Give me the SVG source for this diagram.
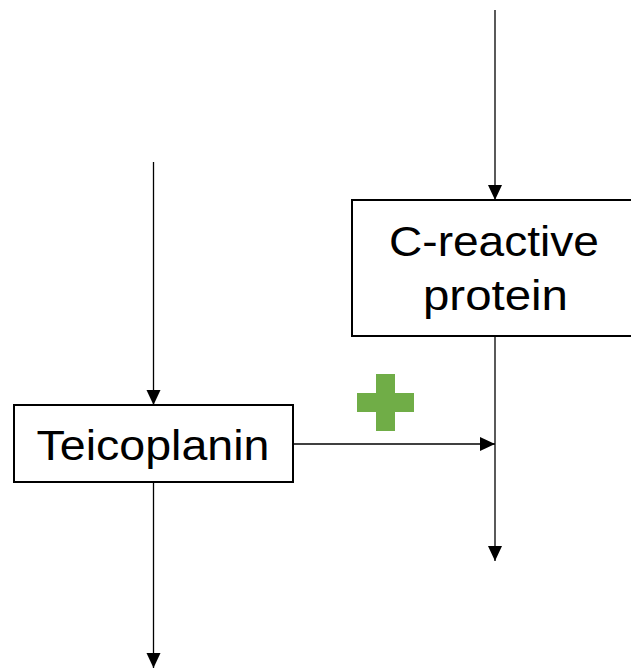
<svg xmlns="http://www.w3.org/2000/svg" width="631" height="669" viewBox="0 0 631 669">
<style>
.box{fill:#fff;stroke:#000;stroke-width:2}
.lbl{font-family:"Liberation Sans",Arial,sans-serif;font-size:42px;fill:#000;text-anchor:middle}
.edge{stroke:#000;stroke-width:1.3;fill:none;marker-end:url(#ah)}
</style>
<defs>
<marker id="ah" markerUnits="userSpaceOnUse" markerWidth="16" markerHeight="16" viewBox="0 0 16 16" refX="15" refY="8" orient="auto">
<path d="M0,1 L15,8 L0,15 Z" fill="#000"/>
</marker>
</defs>
<rect width="631" height="669" fill="#fff"/>
<g id="connectors">
<line class="edge" x1="495" y1="10" x2="495" y2="200"/>
<line class="edge" x1="153.5" y1="162" x2="153.5" y2="405"/>
<line class="edge" x1="153.5" y1="482" x2="153.5" y2="668"/>
<line class="edge" x1="293" y1="444" x2="495" y2="444"/>
<line class="edge" x1="495" y1="336" x2="495" y2="561"/>
</g>
<g id="crp">
<rect class="box" x="352" y="200" width="290" height="136"/>
<text class="lbl" x="494" y="256" textLength="210" lengthAdjust="spacingAndGlyphs">C-reactive</text>
<text class="lbl" x="495.5" y="310" textLength="145" lengthAdjust="spacingAndGlyphs">protein</text>
</g>
<g id="teicoplanin">
<rect class="box" x="14" y="405" width="279" height="77"/>
<text class="lbl" x="153" y="460" textLength="233" lengthAdjust="spacingAndGlyphs">Teicoplanin</text>
</g>
<g id="plus">
<path d="M376,374 H395 V393 H414 V412 H395 V431 H376 V412 H357 V393 H376 Z" fill="#70AD47"/>
</g>
</svg>
